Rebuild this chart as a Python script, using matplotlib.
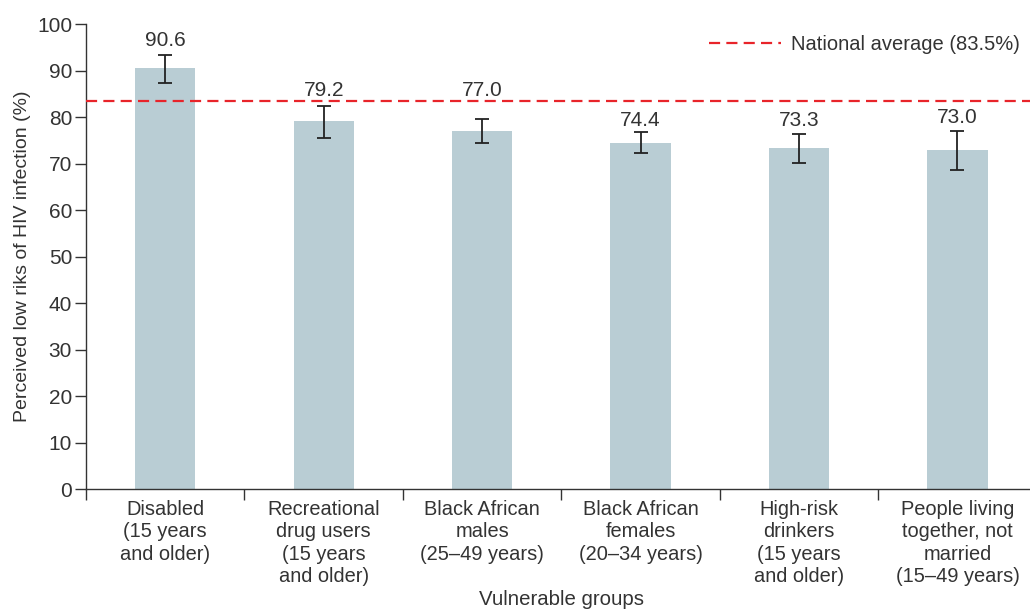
import matplotlib.pyplot as plt
import numpy as np

# data
groups = ['Disabled\n(15 years\nand older)',
          'Recreational\ndrug users\n(15 years\nand older)',
          'Black African\nmales\n(25\u201349 years)',
          'Black African\nfemales\n(20\u201334 years)',
          'High-risk\ndrinkers\n(15 years\nand older)',
          'People living\ntogether, not\nmarried\n(15\u201349 years)']
values = [90.6, 79.2, 77.0, 74.4, 73.3, 73.0]
err_low = [87.3, 75.5, 74.4, 72.3, 70.1, 68.6]
err_high = [93.3, 82.4, 79.6, 76.8, 76.3, 77.0]
national_avg = 83.5

plt.rcParams['font.family'] = ['Liberation Sans', 'DejaVu Sans']
plt.rcParams['font.size'] = 15
text_col = '#333333'

fig = plt.figure(figsize=(10.3, 6.1), dpi=100)
ax = fig.add_axes([0.0835, 0.198, 0.923, 0.7623])

x = np.arange(len(values))
vals = np.array(values)
yerr = [vals - np.array(err_low), np.array(err_high) - vals]
ax.bar(x, vals, width=0.38, color='#b9cdd4', zorder=2)
ax.errorbar(x, vals, yerr=yerr, fmt='none', ecolor='#222222', elinewidth=1.3,
            capsize=5, capthick=1.3, zorder=3)

# label offsets above the error bar (the 77.0 label sits above the red line)
label_pad = [3.2, 3.4, 6.2, 2.6, 3.0, 3.0]
for xi, v, hi, p in zip(x, values, err_high, label_pad):
    ax.text(xi, hi + p, f'{v:.1f}', ha='center', va='center', color=text_col, fontsize=15)

ax.axhline(national_avg, color='#e8242a', linestyle=(0, (5, 2.8)), linewidth=1.6,
           zorder=4, label='National average (83.5%)')

ax.set_xlim(-0.5, 5.5)
ax.set_ylim(0, 100)
ax.set_yticks(np.arange(0, 101, 10))
ax.set_xticks(x)
ax.set_xticklabels(groups, color=text_col, fontsize=14.4, linespacing=1.21)
ax.set_xticks(np.arange(-0.5, 5.6, 1), minor=True)
ax.tick_params(axis='x', which='major', length=0, pad=8)
ax.tick_params(axis='x', which='minor', length=8, width=1, color='#333333')
ax.tick_params(axis='y', length=8, width=1, color='#333333', labelcolor=text_col,
               labelsize=15, pad=2)

for s in ['top', 'right']:
    ax.spines[s].set_visible(False)
for s in ['left', 'bottom']:
    ax.spines[s].set_color('#333333')
    ax.spines[s].set_linewidth(1.0)

ax.set_ylabel('Perceived low riks of HIV infection (%)', color=text_col, fontsize=14, labelpad=4)
ax.set_xlabel('Vulnerable groups', color=text_col, fontsize=14.7, labelpad=3)

leg = ax.legend(loc='upper right', bbox_to_anchor=(1.008, 0.972), bbox_transform=fig.transFigure,
                frameon=False, handlelength=3.6, handletextpad=0.5, fontsize=14.5)
for t in leg.get_texts():
    t.set_color(text_col)

fig.savefig('out.png', dpi=100)
